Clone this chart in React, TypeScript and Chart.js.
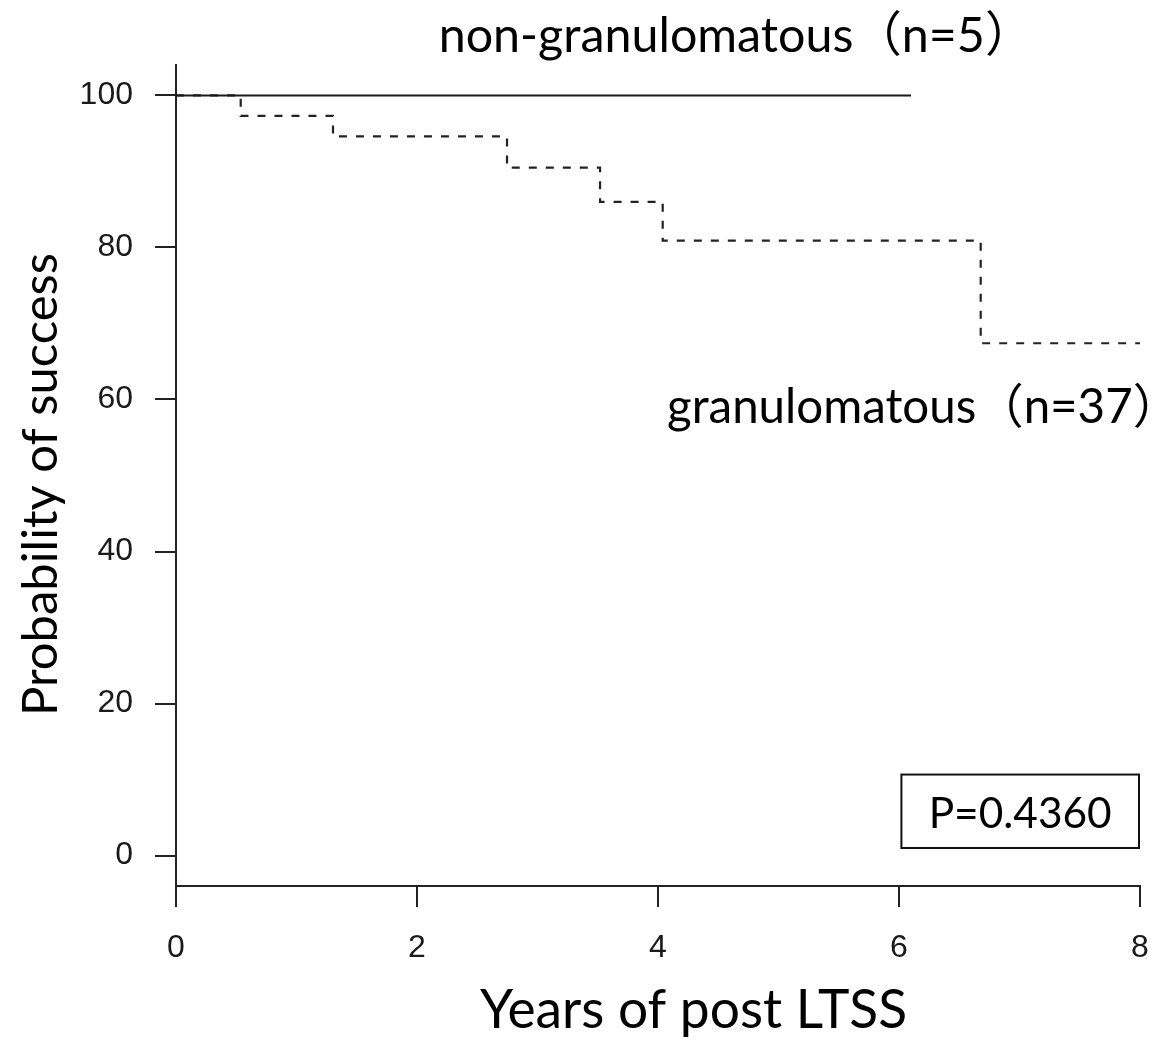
import React, { useEffect, useRef } from "react";
import { Chart, registerables } from "chart.js";

Chart.register(...registerables);

// ---- data ----
const xTicks = [0, 2, 4, 6, 8];
const yTicks = [0, 20, 40, 60, 80, 100];

const nonGranTimes = [0, 6.1];
const nonGranSurvival = [100, 100];

const granTimes = [0, 0.537, 1.303, 2.747, 3.519, 4.039, 6.678, 8];
const granSurvival = [100, 97.3, 94.6, 90.5, 86.0, 80.9, 67.4, 67.4];

const nonGranLabel = "non-granulomatous（n=5）";
const granLabel = "granulomatous（n=37）";
const pValueLabel = "P=0.4360";
const xTitle = "Years of post LTSS";
const yTitle = "Probability of success";

const W = 1157;
const H = 1049;
const TEXT_FAMILY = 'Lato, "Noto Sans CJK JP", sans-serif';

// set a font size so that the ink width of text equals `width`; returns ink left offset
function fitFont(ctx: CanvasRenderingContext2D, text: string, width: number) {
  ctx.font = `100px ${TEXT_FAMILY}`;
  const m = ctx.measureText(text);
  const ink = m.actualBoundingBoxLeft + m.actualBoundingBoxRight;
  const size = (100 * width) / ink;
  ctx.font = `${size}px ${TEXT_FAMILY}`;
  const m2 = ctx.measureText(text);
  return m2.actualBoundingBoxLeft; // distance ink extends left of x (usually ~ -bearing)
}

function drawInk(ctx: CanvasRenderingContext2D, text: string, left: number, baseline: number, width: number) {
  ctx.textAlign = "left";
  const off = fitFont(ctx, text, width);
  ctx.fillText(text, left + off, baseline);
}

const annotationPlugin = {
  id: "kmAnnotations",
  afterDraw(chart: any) {
    const ctx: CanvasRenderingContext2D = chart.ctx;
    const xs = chart.scales.x;
    const ys = chart.scales.y;
    const area = chart.chartArea;
    ctx.save();
    ctx.fillStyle = "#000";
    ctx.textBaseline = "alphabetic";

    // top label (non-granulomatous)
    drawInk(ctx, nonGranLabel, xs.getPixelForValue(2.205), area.top - 13, 558);

    // granulomatous label
    drawInk(ctx, granLabel, xs.getPixelForValue(4.083), ys.getPixelForValue(56.9), 479);

    // P-value box
    const bx0 = xs.getPixelForValue(6.02);
    const bx1 = xs.getPixelForValue(8) - 1;
    const by0 = ys.getPixelForValue(10.66);
    const by1 = ys.getPixelForValue(1.0);
    ctx.strokeStyle = "#111";
    ctx.lineWidth = 2;
    ctx.strokeRect(bx0, by0, bx1 - bx0, by1 - by0);
    drawInk(ctx, pValueLabel, xs.getPixelForValue(6.271), ys.getPixelForValue(3.59), 178);

    // x-axis title
    drawInk(ctx, xTitle, 480, 1028, 425);

    // y-axis title (rotated)
    ctx.translate(57, 712);
    ctx.rotate(-Math.PI / 2);
    drawInk(ctx, yTitle, 0, 0, 457);
    ctx.restore();
  },
};

export default function App() {
  const ref = useRef<HTMLCanvasElement | null>(null);

  useEffect(() => {
    document.body.style.margin = "0";
    document.body.style.overflow = "hidden";
    const canvas = ref.current;
    if (!canvas) return;
    const tickFont = { family: '"Liberation Sans", Arial, sans-serif', size: 32 };
    const chart = new Chart(canvas, {
      type: "line",
      data: {
        datasets: [
          {
            label: "non-granulomatous",
            data: nonGranTimes.map((t, i) => ({ x: t, y: nonGranSurvival[i] })),
            borderColor: "#1a1a1a",
            borderWidth: 2,
            pointRadius: 0,
            stepped: true,
            fill: false,
          },
          {
            label: "granulomatous",
            data: granTimes.map((t, i) => ({ x: t, y: granSurvival[i] })),
            borderColor: "#222",
            borderWidth: 2.2,
            borderDash: [8, 9],
            pointRadius: 0,
            stepped: true,
            fill: false,
          },
        ],
      },
      options: {
        animation: false,
        responsive: false,
        maintainAspectRatio: false,
        devicePixelRatio: 1,
        layout: { padding: { top: 65, right: 17, left: 0, bottom: 0 } },
        plugins: { legend: { display: false }, tooltip: { enabled: false }, title: { display: false } },
        scales: {
          x: {
            type: "linear",
            min: 0,
            max: 8,
            afterBuildTicks: (scale: any) => {
              scale.ticks = xTicks.map((v) => ({ value: v }));
            },
            afterFit: (scale: any) => {
              scale.height = 163;
              scale.paddingLeft = 0;
              scale.paddingRight = 0;
            },
            grid: { drawOnChartArea: false, drawTicks: true, tickLength: 21, color: "#222", lineWidth: 2 },
            border: { display: true, color: "#222", width: 2 },
            ticks: { padding: 22, color: "#1a1a1a", font: tickFont, maxRotation: 0 },
          },
          y: {
            type: "linear",
            min: -4,
            max: 104,
            afterBuildTicks: (scale: any) => {
              scale.ticks = yTicks.map((v) => ({ value: v }));
            },
            afterFit: (scale: any) => {
              scale.width = 176;
              scale.paddingTop = 0;
              scale.paddingBottom = 0;
            },
            grid: { drawOnChartArea: false, drawTicks: true, tickLength: 21, color: "#222", lineWidth: 2 },
            border: { display: true, color: "#222", width: 2 },
            ticks: { padding: 22, color: "#1a1a1a", font: tickFont },
          },
        },
      },
      plugins: [annotationPlugin],
    } as any);
    return () => chart.destroy();
  }, []);

  return <canvas ref={ref} width={W} height={H} style={{ display: "block", width: W, height: H }} />;
}
